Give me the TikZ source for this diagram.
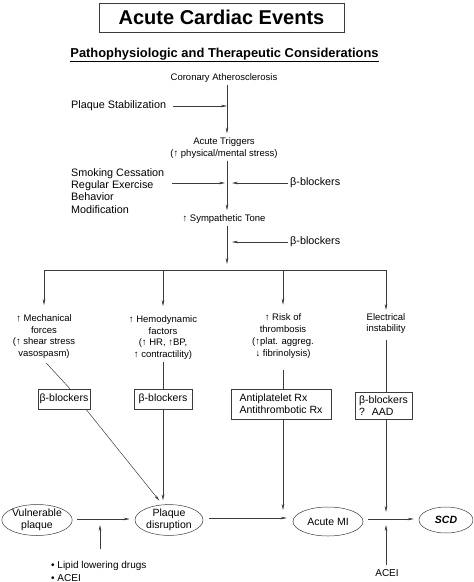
\documentclass[tikz,border=0pt]{standalone}
\usepackage{fontspec}
\setmainfont{Liberation Sans}
\usetikzlibrary{arrows.meta,shapes.geometric}
\definecolor{inkgray}{RGB}{60,60,60}

\tikzset{
  arr/.style={draw=inkgray, line width=0.5pt, -{Stealth[length=6pt,width=2.6pt]}},
  lin/.style={draw=inkgray, line width=0.5pt},
  smalltxt/.style={font=\fontsize{9.5}{11.8}\selectfont, align=center, inner sep=2pt},
  bigtxt/.style={font=\fontsize{10.8}{12.2}\selectfont, align=left, inner sep=2pt},
  rxbox/.style={draw=inkgray, line width=0.5pt, font=\fontsize{10.5}{12}\selectfont, align=left, inner sep=0pt},
  oval/.style={ellipse, draw=inkgray, line width=0.5pt, font=\fontsize{10.5}{12}\selectfont, align=center, inner sep=0pt}
}

\begin{document}
\begin{tikzpicture}[x=1pt,y=-1pt]
  \useasboundingbox (0,0) rectangle (474,582);
  % heading
  \node[draw=inkgray, line width=0.6pt, minimum width=245pt, minimum height=29pt, font=\fontsize{20}{22}\selectfont\bfseries] (title) at (221.5,17.5) {Acute Cardiac Events};
  \node[font=\fontsize{12.9}{14}\selectfont\bfseries] (subtitle) at (224.5,55) {\underline{Pathophysiologic and Therapeutic Considerations}};

  % main column
  \node[smalltxt] (coronary) at (224,78) {Coronary Atherosclerosis};
  \node[smalltxt] (triggers) at (224,148) {Acute Triggers\\(↑ physical/mental stress)};
  \node[smalltxt] (tone) at (224,219) {↑ Sympathetic Tone};
  \coordinate (stabin) at (227,106);
  \coordinate (trigin) at (227,183);
  \coordinate (tonein) at (227,242);
  \coordinate (branch) at (227,270);

  \node[bigtxt, anchor=west] (stab) at (69,106) {Plaque Stabilization};
  \node[bigtxt, anchor=west] (lifestyle) at (69,191) {Smoking Cessation\\Regular Exercise\\Behavior\\Modification};
  \node[bigtxt, anchor=west] (bblockA) at (288,183) {β-blockers};
  \node[bigtxt, anchor=west] (bblockB) at (288,242) {β-blockers};

  \draw[arr, shorten >=2pt] (coronary.south -| stabin) -- (triggers.north -| stabin);
  \draw[arr, shorten <=5pt] (stab.east) -- (stabin);
  \draw[arr, shorten >=2pt] (triggers.south -| trigin) -- (tone.north -| trigin);
  \draw[arr, shorten <=6pt, shorten >=2pt] (lifestyle.east |- trigin) -- (trigin);
  \draw[arr, shorten >=5pt] (bblockA.west) -- (trigin);
  \draw[arr, shorten >=6pt] (tone.south -| tonein) -- (branch);
  \draw[arr, shorten >=5pt] (bblockB.west) -- (tonein);

  % four branches
  \node[smalltxt] (mech) at (44,336.5) {↑ Mechanical\\forces\\(↑ shear stress\\vasospasm)};
  \node[smalltxt] (hemo) at (163,337.5) {↑ Hemodynamic\\factors\\(↑ HR, ↑BP,\\↑ contractility)};
  \node[smalltxt] (thromb) at (283,336) {↑ Risk of\\thrombosis\\(↑plat. aggreg.\\↓ fibrinolysis)};
  \node[smalltxt] (elec) at (386,323.5) {Electrical\\instability};

  \draw[lin] (mech.north |- branch) -- (elec.north |- branch);
  \draw[arr, shorten >=7pt] (mech.north |- branch) -- (mech.north);
  \draw[arr, shorten >=7pt] (hemo.north |- branch) -- (hemo.north);
  \draw[arr, shorten >=7pt] (thromb.north |- branch) -- (thromb.north);
  \draw[arr, shorten >=5pt] (elec.north |- branch) -- ([yshift=-4pt]elec.north);

  % therapy boxes
  \node[rxbox, minimum width=52pt, minimum height=20pt] (rxA) at (64,399) {β-blockers};
  \node[rxbox, minimum width=58pt, minimum height=20pt] (rxB) at (163,399) {β-blockers};
  \node[rxbox, minimum width=100pt, minimum height=30pt] (rxC) at (281,404) {Antiplatelet Rx\\Antithrombotic Rx};
  \node[rxbox, minimum width=57pt, minimum height=27pt] (rxD) at (383.5,405.5) {β-blockers\\? \ AAD};

  \draw[lin] ([xshift=2pt,yshift=-2pt]mech.south) -- ([xshift=6pt]rxA.north);
  \draw[lin] (hemo.south) -- (hemo.south |- rxB.north);
  \draw[lin] ([yshift=-10pt]thromb.south) -- (thromb.south |- rxC.north);
  \draw[lin] ([yshift=-4pt]elec.south) -- (elec.south |- rxD.north);

  % outcomes
  \node[oval, minimum width=68pt, minimum height=31pt] (vulnerable) at (37,520) {Vulnerable\\plaque};
  \node[oval, minimum width=68pt, minimum height=30pt] (disruption) at (169,520) {Plaque\\disruption};
  \node[oval, minimum width=70pt, minimum height=29pt] (acutemi) at (328,521.5) {Acute MI};
  \node[oval, minimum width=54pt, minimum height=26pt] (scd) at (446,520) {\textbf{\textit{SCD}}};
  \coordinate (lipidin) at (100,519);
  \coordinate (miin) at (283,518);
  \coordinate (scdin) at (386,519);

  \draw[arr, shorten <=5pt, shorten >=5pt] (vulnerable.east |- lipidin) -- (disruption.west |- lipidin);
  \draw[arr, shorten <=6pt, shorten >=6pt] (disruption.east |- miin) -- (acutemi.west |- miin);
  \draw[arr, shorten <=5pt, shorten >=5pt] (acutemi.east |- scdin) -- (scd.west |- scdin);

  \draw[arr, shorten >=5pt] ([xshift=22pt]rxA.south) -- (disruption.113);
  \draw[arr, shorten >=4pt] (rxB.south) -- (rxB.south |- disruption.north);
  \draw[arr, shorten >=8pt] (thromb.south |- rxC.south) -- (miin);
  \draw[arr, shorten >=7pt] (elec.south |- rxD.south) -- (scdin);

  \node[bigtxt, font=\fontsize{10}{12.6}\selectfont, anchor=west] (lipid) at (49,571.5) {• Lipid lowering drugs\\• ACEI};
  \node[bigtxt, font=\fontsize{10}{12}\selectfont] (acei) at (387,573) {ACEI};
  \draw[arr, shorten <=10pt, shorten >=6pt] (lipid.north -| lipidin) -- (lipidin);
  \draw[arr, shorten <=2pt, shorten >=6pt] (acei.north -| scdin) -- (scdin);
\end{tikzpicture}
\end{document}
